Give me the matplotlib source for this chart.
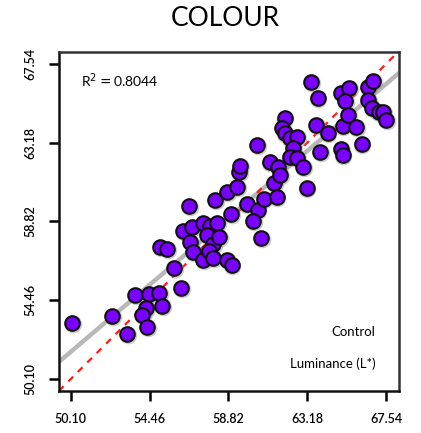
import matplotlib
matplotlib.use("Agg")
import matplotlib.pyplot as plt
import numpy as np

plt.rcParams["font.family"] = ["Lato", "DejaVu Sans"]

TICKS = [50.10, 54.46, 58.82, 63.18, 67.54]
TICK_LABELS = ["50.10", "54.46", "58.82", "63.18", "67.54"]

lum_x = [50.16, 52.37, 53.19, 53.64, 54.41, 54.96, 54.24, 54.02, 54.30, 55.13,
         56.18, 55.79, 55.02, 55.40, 56.29, 56.67, 56.84, 57.39, 56.62, 58.06,
         58.72, 59.27, 59.38, 59.44, 56.79, 57.39, 57.78, 58.17, 57.61, 57.95,
         58.28, 57.72, 57.95, 58.72, 58.99, 58.94, 59.82, 60.43, 60.16, 60.76,
         60.60, 61.32, 61.48, 60.38, 61.09, 61.54, 61.65, 61.92, 61.76, 61.92,
         62.20, 62.59, 62.37, 62.20, 62.59, 62.97, 63.14, 63.41, 63.75, 63.64,
         64.30, 63.91, 65.07, 65.51, 65.29, 65.13, 65.90, 66.18, 65.07, 65.13,
         65.46, 66.56, 66.84, 66.56, 66.78, 67.12, 67.39, 67.56]
lum_y = [53.20, 53.59, 52.59, 54.75, 54.81, 54.86, 54.03, 53.65, 52.98, 54.14,
         55.14, 56.25, 57.41, 57.30, 58.30, 57.69, 57.14, 56.69, 59.68, 60.02,
         60.46, 60.74, 61.57, 61.90, 58.52, 58.74, 58.58, 58.74, 58.08, 57.58,
         57.97, 57.19, 56.80, 56.69, 56.42, 59.24, 59.80, 59.46, 58.85, 60.07,
         57.91, 60.96, 60.18, 63.06, 62.12, 61.85, 61.40, 64.56, 64.01, 63.73,
         63.45, 63.51, 62.90, 62.40, 62.34, 61.85, 60.68, 66.55, 65.67, 64.17,
         63.73, 62.68, 65.94, 66.22, 65.50, 64.12, 64.06, 63.12, 62.84, 62.51,
         64.73, 66.28, 66.61, 65.56, 65.11, 64.89, 64.89, 64.45]

FIT_SLOPE = 0.85
FIT_INTERCEPT = 9.02
R2 = 0.8044

XLIM = (49.44, 68.26)
YLIM = (49.43, 68.2)

fig = plt.figure(figsize=(4.21, 4.33), dpi=100)
ax = fig.add_axes([0.140, 0.097, 0.808, 0.783])

xs = np.array(XLIM)
ax.plot(xs, FIT_SLOPE * xs + FIT_INTERCEPT, color="#b8b8b8", lw=3.2,
        solid_capstyle="butt", zorder=1)
ax.plot(xs, xs, color="#ff1a1a", lw=1.6, ls=(0, (3, 3)), zorder=2)

# soft grey halo under each dot
ax.scatter(np.array(lum_x) + 0.05, np.array(lum_y) - 0.05, s=160,
           color="#9a9a9a", alpha=0.5, linewidths=0, zorder=3)
ax.scatter(lum_x, lum_y, s=110, color="#7a00ff", edgecolors="#111111",
           linewidths=1.5, zorder=4)

ax.set_xlim(*XLIM)
ax.set_ylim(*YLIM)
ax.set_xticks(TICKS)
ax.set_xticklabels(TICK_LABELS)
ax.set_yticks(TICKS)
ax.set_yticklabels(TICK_LABELS, rotation=90, va="center")
ax.tick_params(length=7, width=1.8, labelsize=9, pad=9)
for lab in ax.get_xticklabels() + ax.get_yticklabels():
    lab.set_fontweight("semibold")
for sp in ax.spines.values():
    sp.set_linewidth(1.8)
    sp.set_color("#111111")
ax.spines["right"].set_color("#333333")
ax.spines["top"].set_color("#333333")

ax.text(0.065, 0.915, r"R$^2$$=$0.8044", transform=ax.transAxes,
        fontsize=10, ha="left", va="center")
ax.text(0.93, 0.175, "Control", transform=ax.transAxes,
        fontsize=9.5, ha="right", va="center")
ax.text(0.93, 0.08, "Luminance (L*)", transform=ax.transAxes,
        fontsize=9.5, ha="right", va="center")

fig.text(0.535, 0.985, "COLOUR", fontsize=19, ha="center", va="top")

fig.savefig("out.png", dpi=100)
